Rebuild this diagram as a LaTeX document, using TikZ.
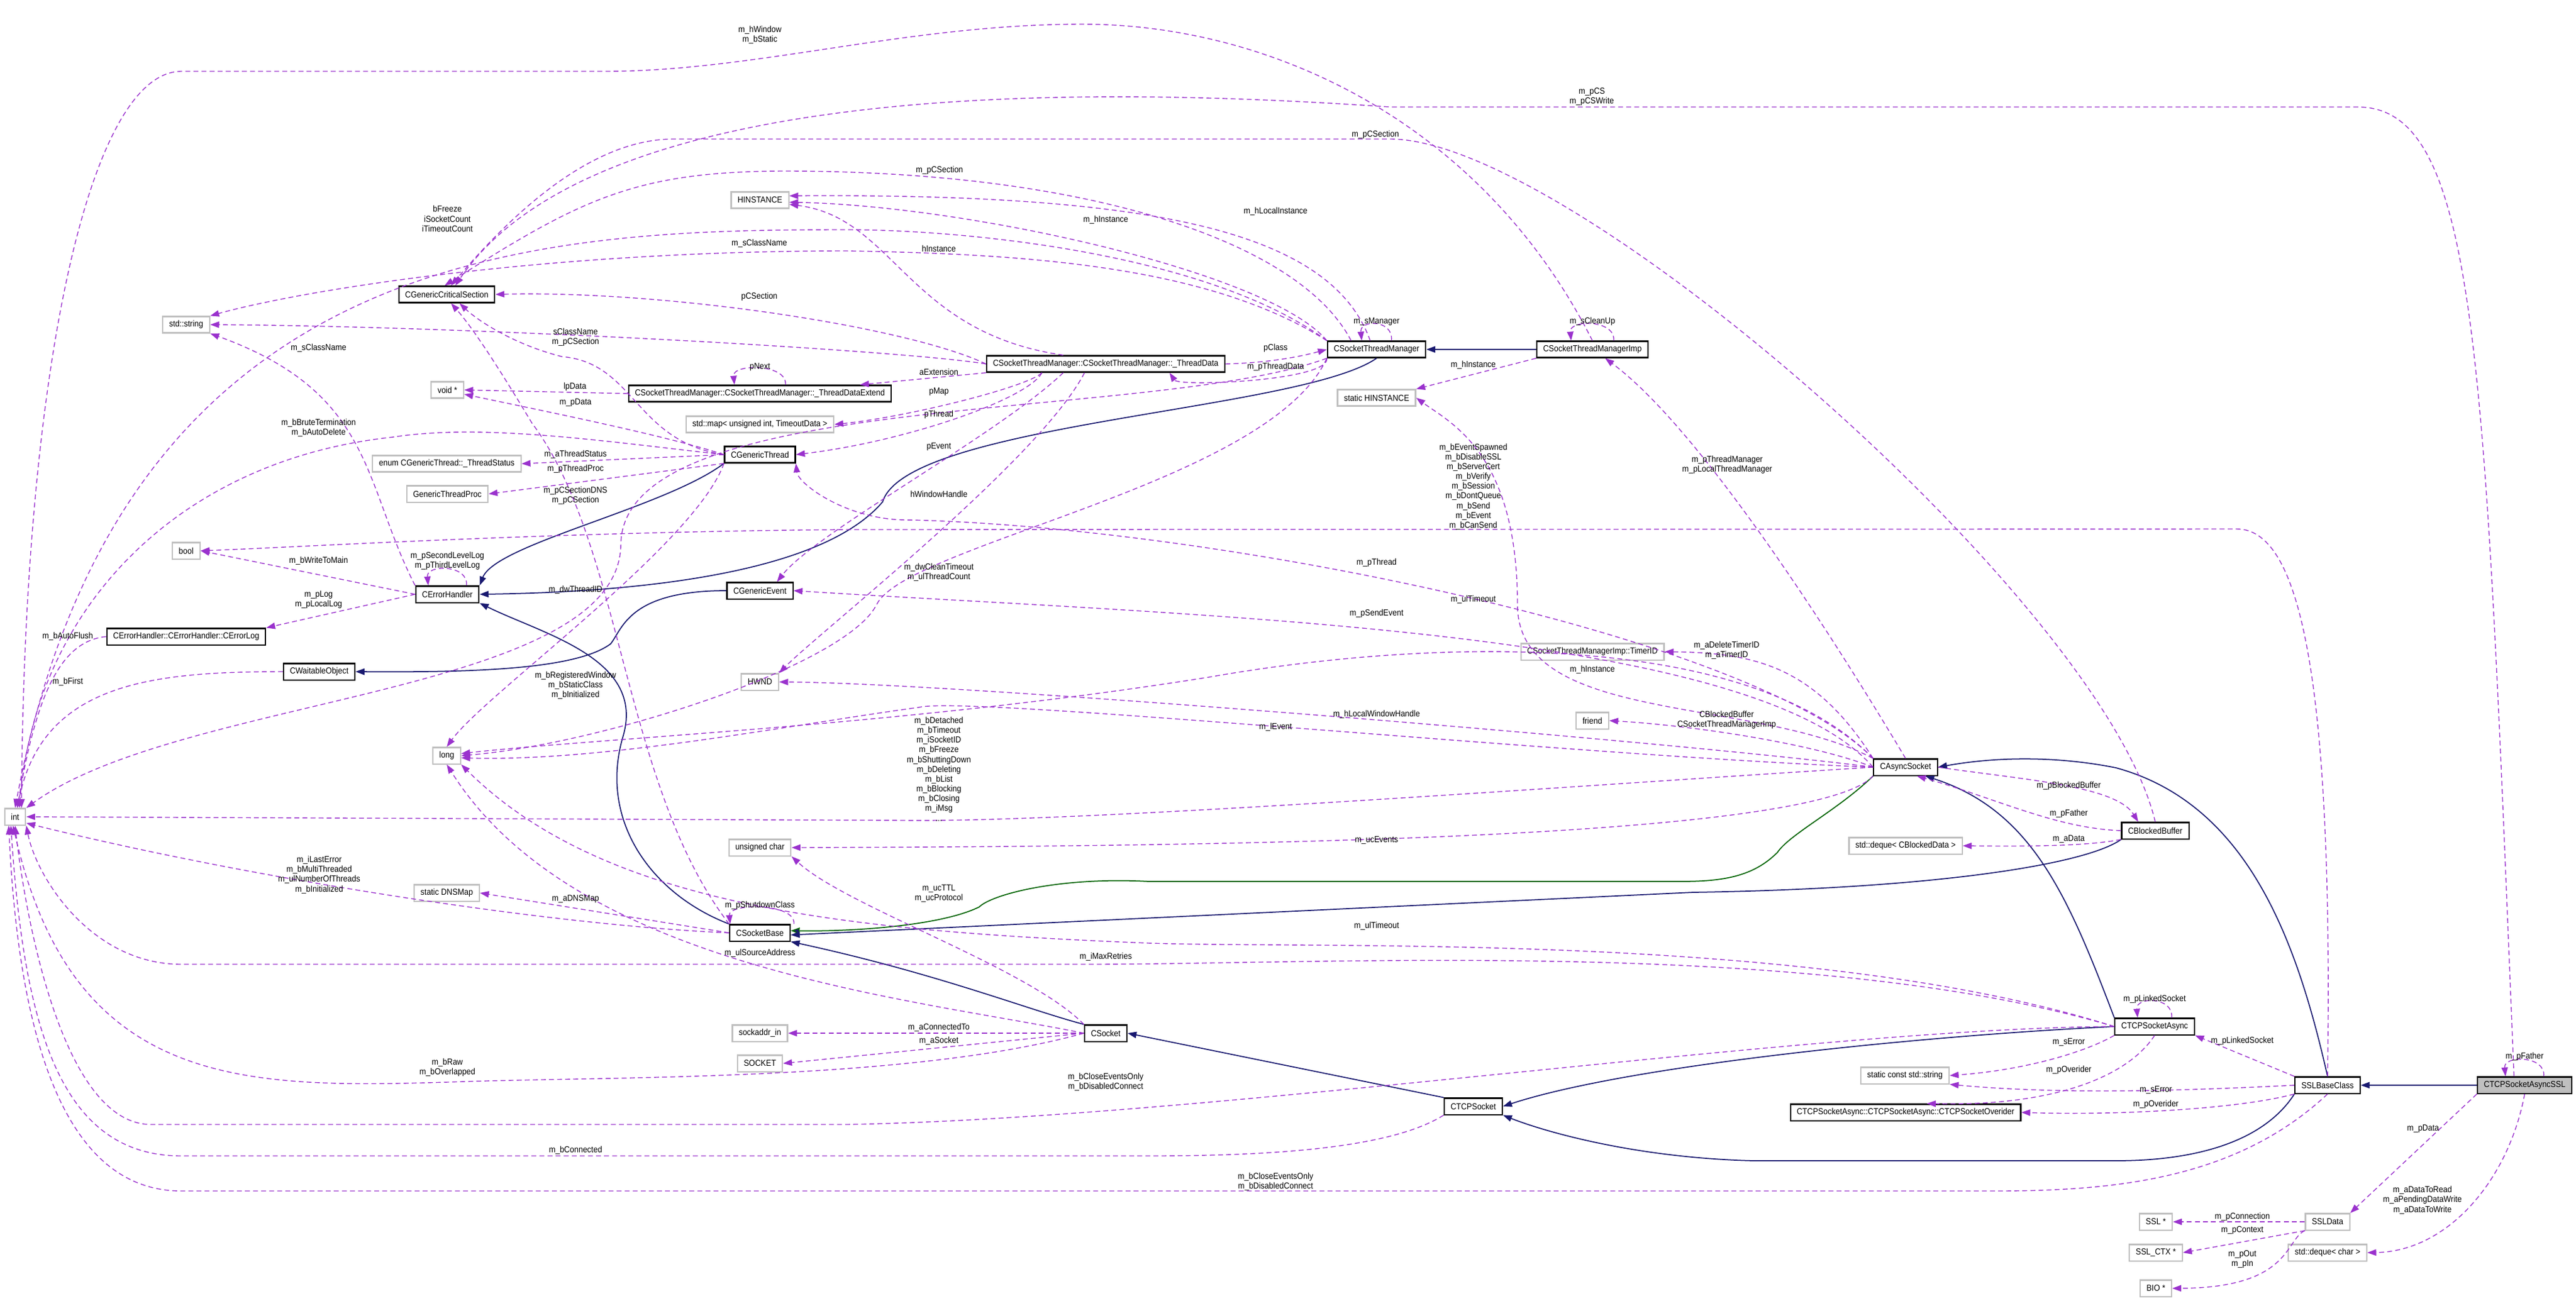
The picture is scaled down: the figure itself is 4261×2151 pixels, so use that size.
\documentclass[tikz,border=0pt]{standalone}
\usepackage{fontspec}
\setmainfont{Liberation Sans}[FakeStretch=0.9]
\usetikzlibrary{arrows.meta}
\definecolor{mempurple}{HTML}{9A32CD}
\definecolor{inhnavy}{HTML}{191970}
\definecolor{inhgreen}{HTML}{006400}
\definecolor{extgray}{HTML}{BFBFBF}
\newcommand\myloop[3]{\draw[mem] ([xshift=#2]#1.north) .. controls ([xshift=#2+1pt,yshift=10pt]#1.north) and ([xshift=#3-1pt,yshift=10pt]#1.north) .. ([xshift=#3]#1.north);}
\begin{document}
\begin{tikzpicture}[x=0.01cm,y=-0.01cm,
  every node/.style={font=\fontsize{4.1}{4.6}\selectfont},
  box/.style={rectangle,inner xsep=3pt,inner ysep=0pt,minimum height=7.7pt,line width=0.6pt,fill=white},
  cls/.style={box,draw=black},
  ext/.style={box,draw=extgray},
  tgt/.style={box,draw=black,fill=extgray},
  lbl/.style={align=center,inner sep=0pt},
  mem/.style={draw=mempurple,line width=0.4pt,dash pattern=on 2.3pt off 1.5pt,-{Triangle[length=4.2pt,width=3pt]}},
  inh/.style={draw=inhnavy,line width=0.5pt,-{Triangle[length=4.2pt,width=3pt]}},
  inhg/.style={draw=inhgreen,line width=0.5pt,-{Triangle[length=4.2pt,width=3pt,fill=inhnavy]}}]
\useasboundingbox (0,0) rectangle (4261,2151);
% nodes
\node[ext] (hinst) at (1257,331) {HINSTANCE};
\node[cls] (gcs) at (739,487) {CGenericCriticalSection};
\node[ext] (str) at (308,537) {std::string};
\node[ext] (voidp) at (740,645) {void *};
\node[cls] (tde) at (1257,651) {CSocketThreadManager::CSocketThreadManager::\_ThreadDataExtend};
\node[ext] (map) at (1257,702) {std::map< unsigned int, TimeoutData >};
\node[cls] (gthr) at (1257,752) {CGenericThread};
\node[ext] (enum) at (739,767) {enum CGenericThread::\_ThreadStatus};
\node[ext] (gtp) at (740,817) {GenericThreadProc};
\node[ext] (bool) at (308,911) {bool};
\node[cls] (eh) at (740,983) {CErrorHandler};
\node[cls] (elog) at (308,1053) {CErrorHandler::CErrorHandler::CErrorLog};
\node[cls] (gev) at (1257,977) {CGenericEvent};
\node[cls] (wo) at (528,1111) {CWaitableObject};
\node[ext] (hwnd) at (1257,1128) {HWND};
\node[ext] (long) at (739,1250) {long};
\node[ext] (int) at (25,1351) {int};
\node[ext] (uchar) at (1257,1402) {unsigned char};
\node[ext] (dns) at (739,1477) {static DNSMap};
\node[cls] (sb) at (1257,1543) {CSocketBase};
\node[ext] (sin) at (1257,1709) {sockaddr\_in};
\node[ext] (sock) at (1257,1759) {SOCKET};
\node[cls] (td) at (1829,602) {CSocketThreadManager::CSocketThreadManager::\_ThreadData};
\node[cls] (stm) at (2277,578) {CSocketThreadManager};
\node[cls] (stmi) at (2634,578) {CSocketThreadManagerImp};
\node[ext] (shinst) at (2277,658) {static HINSTANCE};
\node[ext] (timer) at (2634,1078) {CSocketThreadManagerImp::TimerID};
\node[ext] (friend) at (2634,1192) {friend};
\node[cls] (csock) at (1829,1709) {CSocket};
\node[cls] (tcp) at (2437,1830) {CTCPSocket};
\node[cls] (as) at (3152,1269) {CAsyncSocket};
\node[cls] (bb) at (3565,1374) {CBlockedBuffer};
\node[ext] (dqbd) at (3152,1399) {std::deque< CBlockedData >};
\node[cls] (tcpa) at (3564,1698) {CTCPSocketAsync};
\node[ext] (scs) at (3151,1779) {static const std::string};
\node[cls] (ovr) at (3152,1840) {CTCPSocketAsync::CTCPSocketAsync::CTCPSocketOverider};
\node[cls] (sslb) at (3850,1795) {SSLBaseClass};
\node[tgt] (ssl) at (4176,1795) {CTCPSocketAsyncSSL};
\node[ext] (ssld) at (3850,2021) {SSLData};
\node[ext] (sslp) at (3566,2021) {SSL *};
\node[ext] (ctx) at (3566,2072) {SSL\_CTX *};
\node[ext] (bio) at (3566,2131) {BIO *};
\node[ext] (dqc) at (3850,2072) {std::deque< char >};
% inheritance
\draw[inh] (stmi.west) -- (stm.east);
\draw[inh] (stm.south) .. controls (2150,680) and (1500,700) .. (1460,830) .. controls (1350,960) and (1000,980) .. (eh.east);
\draw[inh] (gthr.south west) .. controls (1100,840) and (820,900) .. (eh.north east);
\draw[inh] (sb.north west) .. controls (1080,1480) and (990,1360) .. (1030,1220) .. controls (1070,1090) and (900,1050) .. (eh.south east);
\draw[inh] (gev.west) .. controls (1040,977) and (1030,1040) .. (1010,1065) .. controls (950,1110) and (760,1112) .. (wo.east);
\draw[inhg] (as.south west) .. controls (3040,1340) and (2960,1380) .. (2940,1410) .. controls (2900,1450) and (2850,1458) .. (2780,1458) -- (1900,1458) .. controls (1750,1450) and (1640,1480) .. (1620,1500) .. controls (1560,1530) and (1420,1541) .. ([yshift=1pt]sb.east);
\draw[inh] (bb.south west) .. controls (3450,1430) and (3200,1470) .. (2800,1476) -- ([yshift=-1pt]sb.east);
\draw[inh] (csock.north west) .. controls (1700,1670) and (1550,1610) .. (sb.south east);
\draw[inh] (tcp.north west) -- (csock.east);
\draw[inh] (tcpa.north west) .. controls (3420,1480) and (3360,1340) .. ([xshift=-6pt]as.south east);
\draw[inh] (tcpa.west) .. controls (3200,1712) and (2700,1760) .. (tcp.east);
\draw[inh] (sslb.north) .. controls (3800,1560) and (3720,1330) .. (3500,1270) .. controls (3400,1250) and (3300,1252) .. (as.east);
\draw[inh] (sslb.south west) .. controls (3750,1880) and (3650,1920) .. (3500,1920) -- (2900,1920) .. controls (2700,1915) and (2550,1870) .. (tcp.south east);
\draw[inh] (ssl.west) -- (sslb.east);
% members
\draw[mem] (stmi.north) .. controls (2450,200) and (2100,40) .. (1790,40) .. controls (1500,40) and (1250,118) .. (1000,118) -- (300,118) .. controls (150,118) and (40,600) .. ([xshift=3pt]int.north);
\draw[mem] ([xshift=-5pt]ssl.north) .. controls (4110,600) and (4100,177) .. (3900,177) -- (2300,177) .. controls (1900,150) and (1000,110) .. ([xshift=4pt]gcs.north);
\draw[mem] (bb.north) .. controls (3480,1000) and (2600,230) .. (2300,230) -- (1114,230) .. controls (980,230) and (850,350) .. ([xshift=2pt]gcs.north);
\draw[mem] ([xshift=-12pt]stm.north) .. controls (2150,400) and (1800,283) .. (1300,283) .. controls (1050,283) and (960,330) .. ([xshift=-1pt]gcs.north);
\draw[mem] (stm.north west) .. controls (2000,420) and (1600,380) .. (1400,380) .. controls (900,380) and (200,400) .. (int.north);
\draw[mem] (stm.north west) .. controls (2000,440) and (1700,420) .. (1400,415) .. controls (900,415) and (500,480) .. (str.north east);
\draw[mem] (stm.north west) .. controls (2100,450) and (1600,340) .. ([yshift=-1pt]hinst.east);
\draw[mem] ([xshift=-3pt]stm.north) .. controls (2200,380) and (1900,320) .. ([yshift=2pt]hinst.east);
\draw[mem] ([xshift=-20pt]td.north) .. controls (1500,550) and (1480,360) .. ([yshift=-2pt]hinst.east);
\draw[mem] (td.west) .. controls (1500,540) and (1100,480) .. (gcs.east);
\draw[mem] (td.west) .. controls (1500,580) and (800,540) .. (str.east);
\draw[mem] (gthr.west) .. controls (1050,730) and (1050,600) .. (930,590) .. controls (850,570) and (790,530) .. ([xshift=6pt]gcs.south);
\draw[mem] (eh.north west) .. controls (600,800) and (620,650) .. (str.south east);
\myloop{tde}{12pt}{-12pt}
\draw[mem] (tde.west) -- (voidp.east);
\draw[mem] (gthr.west) .. controls (1100,720) and (900,680) .. ([yshift=-2pt]voidp.east);
\draw[mem] (gthr.west) .. controls (1000,730) and (800,700) .. (650,723) .. controls (300,760) and (60,1000) .. ([xshift=2pt]int.north);
\draw[mem] (gthr.west) -- (enum.east);
\draw[mem] (gthr.south west) -- (gtp.east);
\draw[mem] (sb.north west) .. controls (1030,1300) and (1030,900) .. (880,700) .. controls (820,600) and (780,540) .. ([xshift=2pt]gcs.south);
\myloop{eh}{9pt}{-9pt}
\draw[mem] (eh.west) -- (bool.east);
\draw[mem] (eh.west) -- (elog.north east);
\draw[mem] (gthr.south west) .. controls (1150,900) and (800,1150) .. (long.north);
\draw[mem] (elog.west) .. controls (100,1060) and (60,1150) .. ([xshift=1pt]int.north);
\draw[mem] (wo.west) .. controls (250,1111) and (70,1130) .. ([xshift=1pt]int.north);
\draw[mem] (stm.south west) .. controls (1900,700) and (1030,640) .. (1027,900) .. controls (1025,1150) and (300,1150) .. (int.north east);
\draw[mem] (stm.south west) .. controls (2200,630) and (1950,640) .. ([xshift=30pt]td.south);
\draw[mem] (td.east) .. controls (2100,600) and (2150,590) .. (stm.west);
\myloop{stm}{7pt}{-7pt}
\myloop{stmi}{10pt}{-10pt}
\draw[mem] (td.south west) -- ([xshift=-15pt]tde.north east);
\draw[mem] ([xshift=-30pt]td.south) .. controls (1700,640) and (1500,690) .. (map.east);
\draw[mem] ([xshift=-30pt]td.south) .. controls (1700,660) and (1500,730) .. (gthr.east);
\draw[mem] ([xshift=-20pt]td.south) .. controls (1650,720) and (1350,880) .. ([xshift=8pt]gev.north);
\draw[mem] ([xshift=-10pt]td.south) .. controls (1720,760) and (1350,1050) .. (hwnd.north east);
\draw[mem] (stm.south west) .. controls (2100,800) and (1500,900) .. (1450,1000) .. controls (1400,1100) and (1000,1230) .. (long.east);
\draw[mem] (stmi.south west) -- (shinst.north east);
\draw[mem] (sslb.north) .. controls (3860,1100) and (3800,875) .. (3700,875) -- (1400,876) .. controls (900,880) and (500,905) .. (bool.east);
\draw[mem] (as.north west) .. controls (2900,1050) and (2000,870) .. (1500,860) .. controls (1400,860) and (1320,800) .. (gthr.south east);
\draw[mem] (as.north west) .. controls (2900,1050) and (2400,1050) .. (2000,1120) .. controls (1500,1200) and (1000,1220) .. ([yshift=1pt]long.east);
\draw[mem] (as.west) .. controls (2900,1040) and (2000,1020) .. (gev.east);
\draw[mem] (as.north west) .. controls (2900,1150) and (2510,1200) .. (2510,1000) .. controls (2510,750) and (2400,700) .. (shinst.east);
\draw[mem] (as.north) .. controls (3000,1000) and (2800,700) .. ([xshift=6pt]stmi.south);
\draw[mem] (as.north west) .. controls (3000,1100) and (2900,1080) .. (timer.east);
\draw[mem] (as.west) .. controls (3000,1230) and (2800,1200) .. (friend.east);
\draw[mem] (as.west) .. controls (2800,1230) and (1600,1130) .. (hwnd.east);
\draw[mem] (as.west) .. controls (2600,1250) and (1600,1150) .. (1520,1170) .. controls (1300,1200) and (1000,1260) .. ([yshift=-1pt]long.east);
\draw[mem] (as.west) .. controls (2600,1300) and (1800,1360) .. (1500,1357) -- (int.east);
\draw[mem] (as.south west) .. controls (3000,1390) and (2000,1400) .. (uchar.east);
\draw[mem] (as.east) .. controls (3350,1290) and (3500,1300) .. ([xshift=-8pt]bb.north);
\draw[mem] (bb.west) .. controls (3400,1370) and (3300,1320) .. ([xshift=-10pt]as.south east);
\draw[mem] (bb.south west) .. controls (3450,1400) and (3350,1400) .. (dqbd.east);
\draw[mem] (csock.north west) .. controls (1700,1600) and (1400,1500) .. (uchar.south east);
\draw[mem] (tcpa.west) .. controls (3000,1540) and (2200,1570) .. (1900,1560) .. controls (1400,1540) and (1000,1500) .. (long.south east);
\draw[mem] (tcpa.west) .. controls (3000,1550) and (2200,1595) .. (1800,1595) -- (300,1595) .. controls (150,1595) and (60,1450) .. (int.south east);
\draw[mem] (csock.west) .. controls (1500,1650) and (950,1600) .. (long.south);
\draw[mem] (csock.west) -- (sin.east);
\draw[mem] (csock.west) -- (sock.east);
\draw[mem] (csock.west) .. controls (1500,1790) and (1000,1780) .. (740,1790) .. controls (400,1800) and (120,1800) .. ([xshift=-1pt]int.south);
\draw[mem] (tcpa.west) .. controls (3000,1700) and (2000,1850) .. (1400,1860) -- (250,1860) .. controls (100,1860) and (40,1500) .. (int.south);
\draw[mem] (tcp.south west) .. controls (2300,1900) and (2100,1912) .. (1900,1912) -- (300,1912) .. controls (100,1912) and (40,1700) .. ([xshift=-2pt]int.south);
\draw[mem] (sslb.south) .. controls (3700,1950) and (3500,1970) .. (3300,1970) -- (300,1970) .. controls (100,1970) and (30,1700) .. ([xshift=-3pt]int.south);
\draw[mem] (sb.west) .. controls (900,1530) and (400,1450) .. ([yshift=-3pt]int.east);
\draw[mem] (sb.west) -- (dns.east);
\myloop{sb}{16pt}{-14pt}
\myloop{tcpa}{8pt}{-8pt}
\draw[mem] (sslb.north west) -- (tcpa.south east);
\draw[mem] (tcpa.south west) .. controls (3450,1740) and (3350,1770) .. (scs.east);
\draw[mem] (tcpa.south) .. controls (3520,1780) and (3400,1830) .. ([xshift=10pt]ovr.north);
\draw[mem] (sslb.west) .. controls (3600,1805) and (3400,1810) .. (scs.south east);
\draw[mem] (sslb.south west) .. controls (3700,1835) and (3500,1845) .. (ovr.east);
\myloop{ssl}{9pt}{-9pt}
\draw[mem] (ssl.south west) -- (ssld.north east);
\draw[mem] (ssl.south) .. controls (4150,1950) and (4050,2070) .. (dqc.east);
\draw[mem] (ssld.west) -- (sslp.east);
\draw[mem] (ssld.south west) -- (ctx.east);
\draw[mem] (ssld.south west) .. controls (3780,2050) and (3790,2130) .. (bio.east);
% labels
\node[lbl] (l1) at (1257,58) {m\_hWindow\\m\_bStatic};
\node[lbl] (l2) at (2633,160) {m\_pCS\\m\_pCSWrite};
\node[lbl] (l3) at (2275,223) {m\_pCSection};
\node[lbl] (l4) at (1554,282) {m\_pCSection};
\node[lbl] (l5) at (740,362) {bFreeze\\iSocketCount\\iTimeoutCount};
\node[lbl] (l6) at (1256,403) {m\_sClassName};
\node[lbl] (l7) at (1829,364) {m\_hInstance};
\node[lbl] (l8) at (2110,350) {m\_hLocalInstance};
\node[lbl] (l9) at (1553,411) {hInstance};
\node[lbl] (l10) at (1256,491) {pCSection};
\node[lbl] (l11) at (952,558) {sClassName\\m\_pCSection};
\node[lbl] (l12) at (527,576) {m\_sClassName};
\node[lbl] (l13) at (1257,607) {pNext};
\node[lbl] (l14) at (951,640) {lpData};
\node[lbl] (l15) at (952,666) {m\_pData};
\node[lbl] (l16) at (527,708) {m\_bBruteTermination\\m\_bAutoDelete};
\node[lbl] (l17) at (952,752) {m\_aThreadStatus};
\node[lbl] (l18) at (952,776) {m\_pThreadProc};
\node[lbl] (l19) at (952,820) {m\_pCSectionDNS\\m\_pCSection};
\node[lbl] (l20) at (740,928) {m\_pSecondLevelLog\\m\_pThirdLevelLog};
\node[lbl] (l21) at (527,928) {m\_bWriteToMain};
\node[lbl] (l22) at (527,992) {m\_pLog\\m\_pLocalLog};
\node[lbl] (l23) at (952,976) {m\_dwThreadID};
\node[lbl] (l24) at (112,1053) {m\_bAutoFlush};
\node[lbl] (l25) at (112,1128) {m\_bFirst};
\node[lbl] (l26) at (952,1134) {m\_bRegisteredWindow\\m\_bStaticClass\\m\_bInitialized};
\node[lbl] (l27) at (2277,532) {m\_sManager};
\node[lbl] (l28) at (2634,532) {m\_sCleanUp};
\node[lbl] (l29) at (2110,576) {pClass};
\node[lbl] (l30) at (2110,607) {m\_pThreadData};
\node[lbl] (l31) at (1553,615) {aExtension};
\node[lbl] (l32) at (1553,648) {pMap};
\node[lbl] (l33) at (1553,686) {pThread};
\node[lbl] (l34) at (1553,739) {pEvent};
\node[lbl] (l35) at (1553,817) {hWindowHandle};
\node[lbl] (l36) at (1553,947) {m\_dwCleanTimeout\\m\_ulThreadCount};
\node[lbl] (l37) at (2437,604) {m\_hInstance};
\node[lbl] (l38) at (2437,805) {m\_bEventSpawned\\m\_bDisableSSL\\m\_bServerCert\\m\_bVerify\\m\_bSession\\m\_bDontQueue\\m\_bSend\\m\_bEvent\\m\_bCanSend};
\node[lbl] (l39) at (2277,931) {m\_pThread};
\node[lbl] (l40) at (2437,992) {m\_ulTimeout};
\node[lbl] (l41) at (2277,1015) {m\_pSendEvent};
\node[lbl] (l42) at (2634,1108) {m\_hInstance};
\node[lbl] (l43) at (2857,769) {m\_pThreadManager\\m\_pLocalThreadManager};
\node[lbl] (l44) at (2856,1076) {m\_aDeleteTimerID\\m\_aTimerID};
\node[lbl] (l45) at (2856,1191) {CBlockedBuffer\\CSocketThreadManagerImp};
\node[lbl] (l46) at (2277,1182) {m\_hLocalWindowHandle};
\node[lbl] (l47) at (2110,1203) {m\_lEvent};
\node[lbl] (l48) at (1553,1272) {m\_bDetached\\m\_bTimeout\\m\_iSocketID\\m\_bFreeze\\m\_bShuttingDown\\m\_bDeleting\\m\_bList\\m\_bBlocking\\m\_bClosing\\m\_iMsg\\...};
\node[lbl] (l49) at (2277,1390) {m\_ucEvents};
\node[lbl] (l50) at (3422,1300) {m\_pBlockedBuffer};
\node[lbl] (l51) at (3422,1346) {m\_pFather};
\node[lbl] (l52) at (3422,1388) {m\_aData};
\node[lbl] (l53) at (1553,1478) {m\_ucTTL\\m\_ucProtocol};
\node[lbl] (l54) at (2277,1532) {m\_ulTimeout};
\node[lbl] (l55) at (1829,1583) {m\_iMaxRetries};
\node[lbl] (l56) at (1257,1577) {m\_ulSourceAddress};
\node[lbl] (l57) at (1553,1700) {m\_aConnectedTo};
\node[lbl] (l58) at (1553,1722) {m\_aSocket};
\node[lbl] (l59) at (740,1766) {m\_bRaw\\m\_bOverlapped};
\node[lbl] (l60) at (1829,1790) {m\_bCloseEventsOnly\\m\_bDisabledConnect};
\node[lbl] (l61) at (952,1903) {m\_bConnected};
\node[lbl] (l62) at (2110,1955) {m\_bCloseEventsOnly\\m\_bDisabledConnect};
\node[lbl] (l63) at (528,1447) {m\_iLastError\\m\_bMultiThreaded\\m\_ulNumberOfThreads\\m\_bInitialized};
\node[lbl] (l64) at (952,1487) {m\_aDNSMap};
\node[lbl] (l65) at (1257,1498) {m\_pShutdownClass};
\node[lbl] (l66) at (3564,1653) {m\_pLinkedSocket};
\node[lbl] (l67) at (3709,1722) {m\_pLinkedSocket};
\node[lbl] (l68) at (3422,1724) {m\_sError};
\node[lbl] (l69) at (3422,1770) {m\_pOverider};
\node[lbl] (l70) at (3566,1803) {m\_sError};
\node[lbl] (l71) at (3566,1827) {m\_pOverider};
\node[lbl] (l72) at (4176,1748) {m\_pFather};
\node[lbl] (l73) at (4008,1867) {m\_pData};
\node[lbl] (l74) at (4007,1985) {m\_aDataToRead\\m\_aPendingDataWrite\\m\_aDataToWrite};
\node[lbl] (l75) at (3709,2013) {m\_pConnection};
\node[lbl] (l76) at (3709,2035) {m\_pContext};
\node[lbl] (l77) at (3709,2083) {m\_pOut\\m\_pIn};
\end{tikzpicture}
\end{document}
